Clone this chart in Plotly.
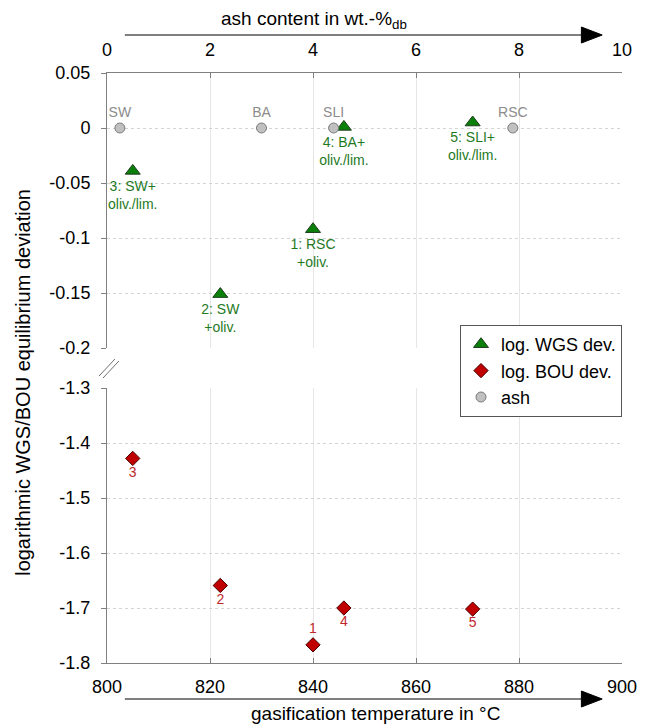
import plotly.graph_objects as go

# ---- data ----
run_labels_wgs = ["1: RSC<br>+oliv.", "2: SW<br>+oliv.", "3: SW+<br>oliv./lim.",
                  "4: BA+<br>oliv./lim.", "5: SLI+<br>oliv./lim."]
run_numbers = ["1", "2", "3", "4", "5"]
temperature = [840, 822, 805, 846, 871]
wgs_dev = [-0.092, -0.151, -0.039, 0.001, 0.005]
bou_dev = [-1.767, -1.659, -1.428, -1.700, -1.702]

ash_names = ["SW", "BA", "SLI", "RSC"]
ash_content = [0.25, 3.0, 4.4, 7.88]
ash_level = [0, 0, 0, 0]

temp_ticks = [800, 820, 840, 860, 880, 900]
ash_ticks = [0, 2, 4, 6, 8, 10]
top_yticks = [0.05, 0, -0.05, -0.1, -0.15, -0.2]
top_yticklabels = ["0.05", "0", "-0.05", "-0.1", "-0.15", "-0.2"]
bot_yticks = [-1.3, -1.4, -1.5, -1.6, -1.7, -1.8]
bot_yticklabels = ["-1.3", "-1.4", "-1.5", "-1.6", "-1.7", "-1.8"]

# ---- layout geometry (reference pixel coords; page body has 8px margin) ----
OFF = 8
W, H = 649 - OFF, 724 - OFF
L, R, T, B = 107, 627, 73, 663
PW, PH = R - L, B - T


def px(xp):
    return (xp - L) / PW


def py(yp):
    return (B - yp) / PH


FONT = "Liberation Sans, Arial, sans-serif"
AXC = "#808080"

fig = go.Figure()

fig.add_trace(go.Scatter(
    x=temperature, y=wgs_dev, xaxis="x", yaxis="y2", mode="markers+text",
    name="log. WGS dev.", text=run_labels_wgs, textposition="bottom center",
    textfont=dict(color="#1f7a1f", size=14, family=FONT),
    marker=dict(symbol="triangle-up", size=13, color="#0a800a",
                line=dict(color="#1c3a1c", width=1)),
    cliponaxis=False,
))
fig.add_trace(go.Scatter(
    x=temperature, y=bou_dev, xaxis="x", yaxis="y", mode="markers+text",
    name="log. BOU dev.", text=run_numbers,
    textposition=["top center", "bottom center", "bottom center", "bottom center", "bottom center"],
    textfont=dict(color="#c0282d", size=14, family=FONT),
    marker=dict(symbol="diamond", size=11, color="#c00000",
                line=dict(color="#4a0000", width=1)),
    cliponaxis=False,
))
fig.add_trace(go.Scatter(
    x=ash_content, y=ash_level, xaxis="x2", yaxis="y2", mode="markers+text",
    name="ash", text=ash_names, textposition="top center",
    textfont=dict(color="#8c8c8c", size=14, family=FONT),
    marker=dict(symbol="circle", size=10, color="#c0c0c0",
                line=dict(color="#7a7a7a", width=1)),
    cliponaxis=False,
))

dom_bot = [0, (B - 388) / PH]
dom_top = [(B - 348) / PH, 1]

common_y = dict(showline=True, linecolor=AXC, linewidth=1, ticks="outside",
                ticklen=5, tickcolor=AXC, zeroline=False, showgrid=True,
                gridcolor="#d4d4d4", griddash="dot", gridwidth=1,
                tickfont=dict(size=18, color="black", family=FONT),
                ticklabelstandoff=7)

fig.update_layout(
    width=W, height=H,
    margin=dict(l=L - OFF, r=649 - R, t=T - OFF, b=724 - B),
    paper_bgcolor="white", plot_bgcolor="white",
    font=dict(family=FONT, size=18, color="black"),
    showlegend=True,
    legend=dict(x=px(627), y=py(325), xanchor="right", yanchor="top",
                bgcolor="white", bordercolor="#555555", borderwidth=1,
                font=dict(size=18, family=FONT, color="black"),
                itemwidth=30, tracegroupgap=0),
    xaxis=dict(range=[800, 900], tickvals=temp_ticks, anchor="y",
               showline=True, linecolor=AXC, linewidth=1, ticks="inside",
               ticklen=5, tickcolor=AXC, zeroline=False, showgrid=True,
               gridcolor="#e6e6e6", gridwidth=1,
               tickfont=dict(size=18, color="black", family=FONT),
               ticklabelstandoff=7),
    xaxis2=dict(range=[0, 10], tickvals=ash_ticks, anchor="y2", overlaying="x",
                side="top", showline=True, linecolor=AXC, linewidth=1,
                ticks="inside", ticklen=5, tickcolor=AXC, zeroline=False,
                showgrid=False,
                tickfont=dict(size=18, color="black", family=FONT),
                ticklabelstandoff=9),
    yaxis=dict(range=[-1.8, -1.3], domain=dom_bot, tickvals=bot_yticks,
               ticktext=bot_yticklabels, anchor="x", **common_y),
    yaxis2=dict(range=[-0.2, 0.05], domain=dom_top, tickvals=top_yticks,
                ticktext=top_yticklabels, anchor="x", **common_y),
)

# axis titles
fig.add_annotation(text="logarithmic WGS/BOU equilibrium deviation", xref="paper",
                   yref="paper", x=px(22), y=py(382), textangle=-90,
                   xanchor="center", yanchor="middle",
                   showarrow=False, font=dict(size=20, family=FONT, color="black"))
fig.add_annotation(text="ash content in wt.-%<sub>db</sub>", xref="paper", yref="paper",
                   x=px(316), y=py(20), xanchor="center", yanchor="middle",
                   showarrow=False, font=dict(size=19, family=FONT, color="black"))
fig.add_annotation(text="gasification temperature in °C", xref="paper", yref="paper",
                   x=px(378), y=py(713), xanchor="center", yanchor="middle",
                   showarrow=False, font=dict(size=19, family=FONT, color="black"))

# arrows (decoration)
for yy in (35, 699):
    fig.add_shape(type="line", xref="paper", yref="paper",
                  x0=px(125), x1=px(590), y0=py(yy), y1=py(yy),
                  line=dict(color="black", width=1.2))
    fig.add_shape(type="path", xref="paper", yref="paper",
                  path=f"M {px(586)} {py(yy - 8)} L {px(607)} {py(yy)} L {px(586)} {py(yy + 8)} Z",
                  fillcolor="black", line=dict(color="black", width=1))

# axis break marks
for dx in (0, 4):
    fig.add_shape(type="line", xref="paper", yref="paper",
                  x0=px(99 + dx), y0=py(376 + dx * 0.5), x1=px(115 + dx), y1=py(359 + dx * 0.5),
                  line=dict(color="#707070", width=1))

fig.write_html("out.html")
